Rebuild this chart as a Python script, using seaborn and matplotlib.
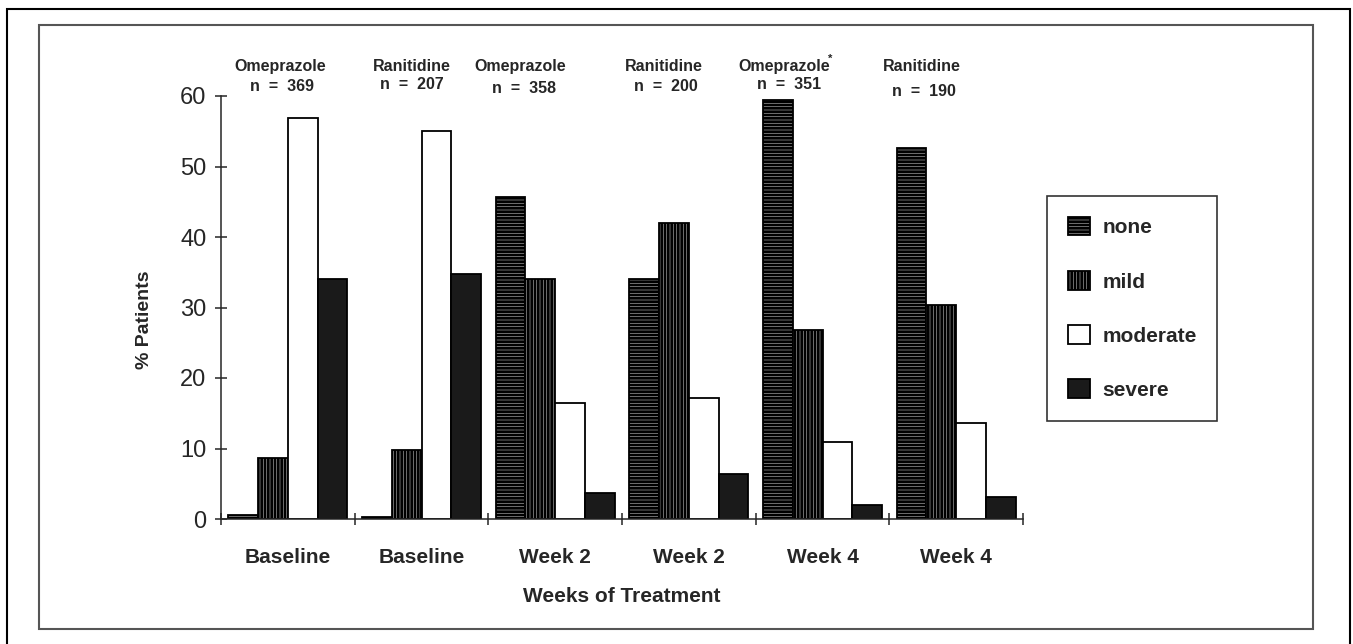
# -*- coding: utf-8 -*-

# Package Loading
import matplotlib
matplotlib.use("Agg")
import matplotlib.pyplot as plt
from matplotlib.patches import Rectangle
import numpy as np
import pandas as pd
import seaborn as sns

# Data
groups = ["g1", "g2", "g3", "g4", "g5", "g6"]
group_labels = ["Baseline", "Baseline", "Week 2", "Week 2", "Week 4", "Week 4"]
drugs = ["Omeprazole", "Ranitidine", "Omeprazole", "Ranitidine", "Omeprazole", "Ranitidine"]
n_patients = [369, 207, 358, 200, 351, 190]
severity = ["none", "mild", "moderate", "severe"]
none_pct = [0.5, 0.3, 45.7, 34.0, 59.5, 52.6]
mild_pct = [8.7, 9.8, 34.0, 42.0, 26.8, 30.4]
moderate_pct = [56.9, 55.0, 16.4, 17.2, 10.9, 13.6]
severe_pct = [34.0, 34.7, 3.7, 6.4, 2.0, 3.1]

# Tidy data
df = pd.DataFrame({"group": groups, "none": none_pct, "mild": mild_pct,
                   "moderate": moderate_pct, "severe": severe_pct})
df = pd.melt(df, id_vars="group", var_name="severity", value_name="pct")

# Style
sns.set_style("ticks")
plt.rcParams["font.family"] = ["Liberation Sans", "DejaVu Sans"]
plt.rcParams["hatch.linewidth"] = 2.1
plt.rcParams["axes.linewidth"] = 1.1

fig = plt.figure(figsize=(13.53, 6.44), dpi=100)
ax = fig.add_axes([221 / 1353, 1 - 519 / 644, 802 / 1353, 423 / 644])

sns.barplot(data=df, x="group", y="pct", hue="severity", order=groups,
            hue_order=severity, width=0.89, gap=0, palette=["white"] * 4,
            edgecolor="black", linewidth=1.3, saturation=1, ax=ax, legend=False)

# Bar fills: horizontal stripes, vertical stripes, open, solid
styles = {"none": ("white", "-----"), "mild": ("white", "|||||"),
          "moderate": ("white", None), "severe": ("#1a1a1a", None)}
for level, cont in zip(severity, ax.containers):
    fc, hatch = styles[level]
    for bar in cont.patches:
        bar.set_facecolor(fc)
        bar.set_hatch(hatch)

# Axes
ax.set_ylim(0, 60)
ax.set_xlim(-0.5, len(groups) - 0.5)
ax.set_yticks(np.arange(0, 61, 10))
ax.tick_params(axis="y", direction="inout", length=9, width=1.1, labelsize=17, pad=6)
ax.set_xticks(range(len(groups)))
ax.set_xticklabels(group_labels, fontsize=15, fontweight="bold")
ax.tick_params(axis="x", which="major", length=0, pad=21)
ax.set_xticks(np.arange(-0.5, len(groups), 1), minor=True)
ax.tick_params(axis="x", which="minor", direction="inout", length=9, width=1.1)
sns.despine(ax=ax)

ax.set_xlabel("Weeks of Treatment", fontsize=15, fontweight="bold")
ax.xaxis.set_label_coords(0.5, -0.16)
ax.set_ylabel("% Patients", fontsize=14, fontweight="bold")
ax.yaxis.set_label_coords(-0.085, 0.47)

# Drug / sample size annotations above each group
drug_x = [-0.06, 0.93, 1.74, 2.81, 3.71, 4.74]
n_x = [-0.04, 0.93, 1.77, 2.83, 3.75, 4.76]
n_y = [61.3, 61.6, 61.1, 61.4, 61.6, 60.6]
for i in range(len(groups)):
    ax.text(drug_x[i], 64.2, drugs[i], ha="center", va="center",
            fontsize=11.5, fontweight="bold", clip_on=False)
    ax.text(n_x[i], n_y[i], "n  =  " + str(n_patients[i]), ha="center", va="center",
            fontsize=11.5, fontweight="bold", clip_on=False)
ax.text(4.06, 65.3, "*", ha="center", va="center", fontsize=8,
        fontweight="bold", clip_on=False)

# Legend
handles = [cont.patches[0] for cont in ax.containers]
leg = ax.legend(handles, severity, loc="upper left",
                bbox_to_anchor=(1047 / 1353, 1 - 196 / 644),
                bbox_transform=fig.transFigure, borderaxespad=0,
                prop={"size": 15, "weight": "bold"}, frameon=True, fancybox=False,
                edgecolor="black", borderpad=1.0, labelspacing=1.62,
                handlelength=1.05, handleheight=1.0, handletextpad=0.6)
leg.get_frame().set_linewidth(1.2)

# Page frames
fig.add_artist(Rectangle((7 / 1353, -0.05), 1343 / 1353, 1.05 - 9 / 644,
                         transform=fig.transFigure, fill=False,
                         edgecolor="black", linewidth=1.5))
fig.add_artist(Rectangle((39 / 1353, 1 - 629 / 644), 1274 / 1353, 604 / 644,
                         transform=fig.transFigure, fill=False,
                         edgecolor="#555555", linewidth=1.5))

plt.savefig("out.png", dpi=100)
plt.close("all")
